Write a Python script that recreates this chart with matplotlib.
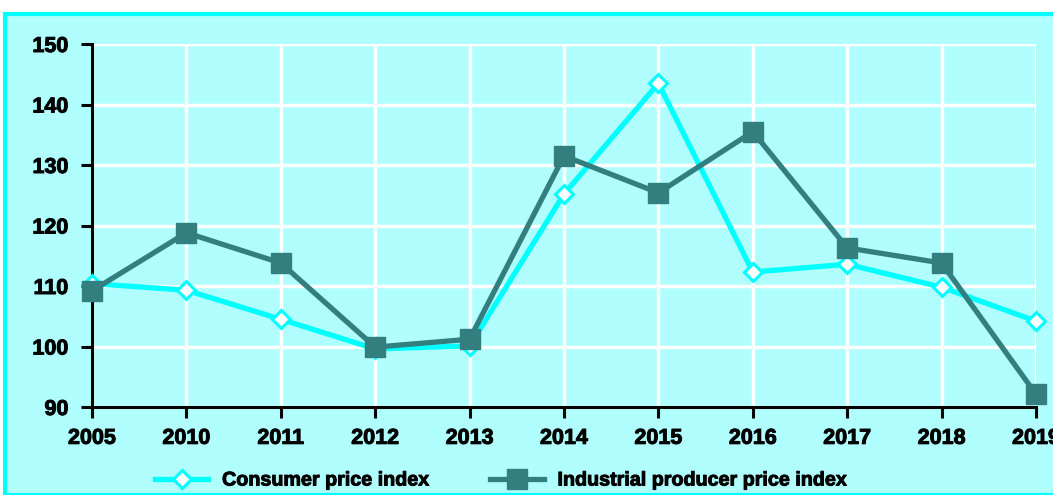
import matplotlib
matplotlib.use("Agg")
import matplotlib.pyplot as plt
from matplotlib.patches import Rectangle
import matplotlib.patheffects as pe

years = ["2005", "2010", "2011", "2012", "2013", "2014", "2015", "2016", "2017", "2018", "2019"]
cpi = [110.4, 109.3, 104.5, 99.6, 100.1, 125.2, 143.5, 112.3, 113.6, 109.8, 104.2]
ppi = [109.2, 118.8, 113.8, 99.9, 101.2, 131.5, 125.4, 135.5, 116.3, 113.8, 92.1]
yticks = [90, 100, 110, 120, 130, 140, 150]

plt.rcParams['font.family'] = ['Liberation Sans', 'DejaVu Sans']
plt.rcParams['font.weight'] = 'bold'

W, H = 1053, 495
fig = plt.figure(figsize=(W / 100, H / 100), dpi=100)
fig.patch.set_facecolor('white')

bg = '#b0fefe'
fig.patches.append(Rectangle((5 / W, 0), 1.2, 1 - 14 / H, transform=fig.transFigure,
                             facecolor=bg, edgecolor='#00ffff', linewidth=3, zorder=-10))

ax = fig.add_axes([92 / W, 1 - 407 / H, (1036 - 92) / W, (407 - 44) / H])
ax.set_facecolor(bg)
x = list(range(len(years)))

ax.plot(x, cpi, color='#00ffff', linewidth=3.8, marker='D', markersize=9,
        markerfacecolor='white', markeredgecolor='#00ffff', markeredgewidth=2.2,
        clip_on=False, zorder=3, label='Consumer price index')
ax.plot(x, ppi, color='#337f7f', linewidth=3.8, marker='s', markersize=14,
        markerfacecolor='#337f7f', markeredgecolor='#337f7f',
        clip_on=False, zorder=4, label='Industrial producer price index')

ax.set_xlim(0, len(years) - 1)
ax.set_ylim(90, 150)
ax.set_yticks(yticks)
ax.set_xticks(x)
ax.set_xticklabels(years)
ax.grid(True, color='white', linewidth=2.5)
ax.set_axisbelow(True)
for s in ['top', 'right']:
    ax.spines[s].set_visible(False)
for s in ['left', 'bottom']:
    ax.spines[s].set_linewidth(2.2)
    ax.spines[s].set_color('black')
ax.tick_params(axis='y', length=8, width=2.2, pad=9, labelsize=15.5)
ax.tick_params(axis='x', length=8, width=2.2, pad=7, labelsize=15.5)

stroke = [pe.withStroke(linewidth=0.7, foreground='black')]
for t in ax.get_xticklabels() + ax.get_yticklabels():
    t.set_path_effects(stroke)

leg = fig.legend(loc='center left', bbox_to_anchor=(155 / W, 1 - 480 / H), ncol=2, frameon=False,
                 borderpad=0, borderaxespad=0,
                 handlelength=2.7, columnspacing=3.1, handletextpad=0.7,
                 prop={'size': 14.2, 'weight': 'bold'})
for t in leg.get_texts():
    t.set_path_effects(stroke)

fig.savefig('out.png', dpi=100, facecolor=fig.get_facecolor())
